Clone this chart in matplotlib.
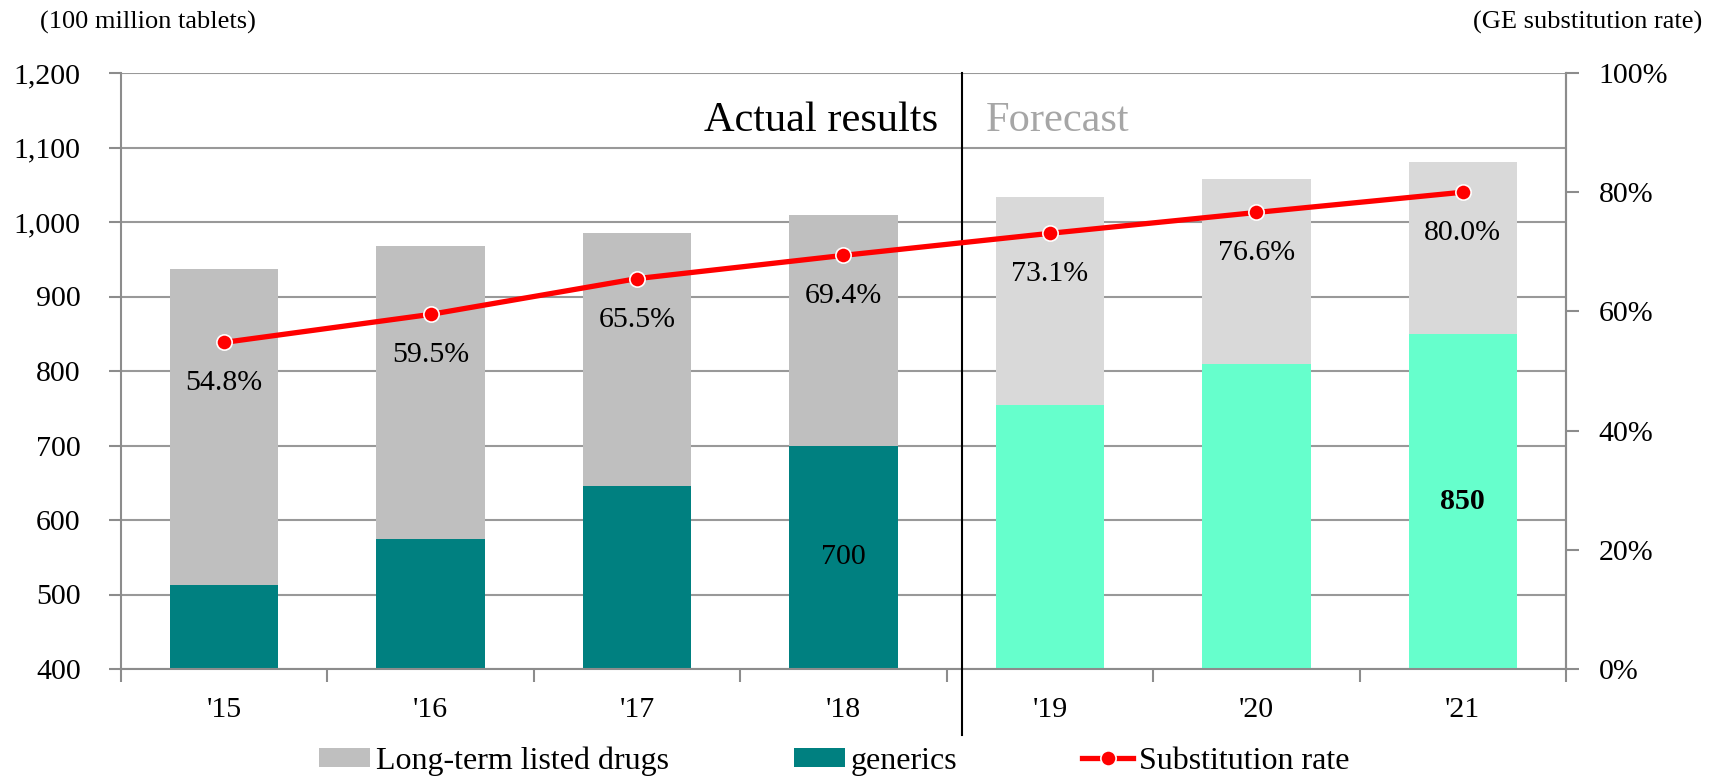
import matplotlib
matplotlib.use("Agg")
import matplotlib.pyplot as plt
from matplotlib.patches import Patch
from matplotlib.lines import Line2D
from matplotlib.ticker import FuncFormatter, FixedLocator, NullFormatter
import matplotlib.transforms as mtransforms

plt.rcParams['font.family'] = ['Liberation Serif', 'DejaVu Serif']

# ---- data ----
years = ["'15", "'16", "'17", "'18", "'19", "'20", "'21"]
total_tablets = [937, 968, 985, 1009, 1034, 1058, 1080]       # 100 million tablets
generic_tablets = [513, 575, 645, 700, 754, 810, 850]
substitution_rate = [54.8, 59.5, 65.5, 69.4, 73.1, 76.6, 80.0]  # %
is_forecast = [False, False, False, False, True, True, True]
bar_value_labels = {3: ("700", "normal"), 6: ("850", "bold")}

long_term_tablets = [t - g for t, g in zip(total_tablets, generic_tablets)]

# ---- styling ----
GRAY_ACT, GRAY_FC = "#BFBFBF", "#D9D9D9"
TEAL_ACT, TEAL_FC = "#008080", "#66FFCC"
RED = "#FF0000"
AXIS_GRAY = "#8C8C8C"
TICK_FS = 21.5

fig = plt.figure(figsize=(17.15, 7.79), dpi=100)
ax = fig.add_axes([121 / 1715, 110 / 779, 1445 / 1715, 596 / 779])

x = list(range(len(years)))
width = 0.525
gen_colors = [TEAL_FC if f else TEAL_ACT for f in is_forecast]
lt_colors = [GRAY_FC if f else GRAY_ACT for f in is_forecast]

ax.bar(x, generic_tablets, width=width, color=gen_colors, zorder=2)
ax.bar(x, long_term_tablets, width=width, bottom=generic_tablets,
       color=lt_colors, zorder=2)

for i, (txt, weight) in bar_value_labels.items():
    ax.text(i, (400 + generic_tablets[i]) / 2, txt, ha="center", va="center",
            fontsize=21.5, fontweight=weight, color="black", zorder=4)

ax.set_xlim(-0.5, len(years) - 0.5)
ax.set_ylim(400, 1200)
ax.set_yticks(range(400, 1201, 100))
ax.yaxis.set_major_formatter(FuncFormatter(lambda v, p: f"{int(v):,}"))
ax.grid(axis="y", color="#999999", linewidth=1.5, zorder=0)
ax.set_axisbelow(True)

ax.set_xticks(x)
ax.set_xticklabels(years)
ax.xaxis.set_minor_locator(FixedLocator([i - 0.5 for i in range(len(years) + 1)]))
ax.xaxis.set_minor_formatter(NullFormatter())
ax.tick_params(axis="x", which="major", length=0, pad=20, labelsize=TICK_FS)
ax.tick_params(axis="x", which="minor", length=9, width=1.5, color=AXIS_GRAY)
ax.tick_params(axis="y", length=9, width=1.5, color=AXIS_GRAY, labelsize=TICK_FS, pad=20)

for side in ("left", "bottom", "right"):
    ax.spines[side].set_color(AXIS_GRAY)
    ax.spines[side].set_linewidth(1.5)
ax.spines["top"].set_visible(False)

# ---- substitution rate on the secondary axis ----
ax2 = ax.twinx()
ax2.set_ylim(0, 100)
ax2.set_yticks(range(0, 101, 20))
ax2.yaxis.set_major_formatter(FuncFormatter(lambda v, p: f"{int(v)}%"))
ax2.tick_params(axis="y", length=9, width=1.5, color=AXIS_GRAY, labelsize=TICK_FS, pad=14.5)
for side in ("left", "bottom", "right", "top"):
    ax2.spines[side].set_visible(False)
ax2.spines["right"].set_visible(True)
ax2.spines["right"].set_color(AXIS_GRAY)
ax2.spines["right"].set_linewidth(1.5)

ax2.plot(x, substitution_rate, color=RED, linewidth=3.8, marker="o",
         markersize=11, markerfacecolor=RED, markeredgecolor="white",
         markeredgewidth=1.2, zorder=5)
for xi, r in zip(x, substitution_rate):
    ax2.annotate(f"{r:.1f}%", (xi, r), xytext=(0, -29.5), textcoords="offset points",
                 ha="center", va="center", fontsize=21.5, color="black", zorder=6)

# ---- actual / forecast divider ----
divider_x = 3.575
trans = mtransforms.blended_transform_factory(ax.transData, ax.transAxes)
ax.add_line(Line2D([divider_x, divider_x], [1.0, -0.11], transform=trans,
                   color="black", linewidth=1.5, clip_on=False, zorder=6))
ax.text(divider_x - 0.117, 0.92, "Actual results", transform=trans, ha="right",
        va="center", fontsize=30.5, color="black")
ax.text(divider_x + 0.115, 0.92, "Forecast", transform=trans, ha="left",
        va="center", fontsize=30.5, color="#A6A6A6")

# ---- unit captions ----
fig.text(40 / 1715, 1 - 22 / 779, "(100 million tablets)", ha="left", va="center",
         fontsize=19)
fig.text(1702 / 1715, 1 - 22 / 779, "(GE substitution rate)", ha="right",
         va="center", fontsize=19)

# ---- legend ----
handles = [
    Patch(facecolor=GRAY_ACT, edgecolor="none"),
    Patch(facecolor=TEAL_ACT, edgecolor="none"),
    Line2D([0], [0], color=RED, linewidth=3.8, marker="o", markersize=11,
           markerfacecolor=RED, markeredgecolor="white", markeredgewidth=1.2),
]
labels = ["Long-term listed drugs", "generics", "Substitution rate"]
fig.legend(handles, labels, loc="center", bbox_to_anchor=(834.5 / 1715, 18 / 779),
           ncol=3, frameon=False, fontsize=23, handlelength=1.6,
           handleheight=0.55, handletextpad=0.19, columnspacing=3.9,
           borderpad=0.1)

fig.savefig("out.png", dpi=100)
